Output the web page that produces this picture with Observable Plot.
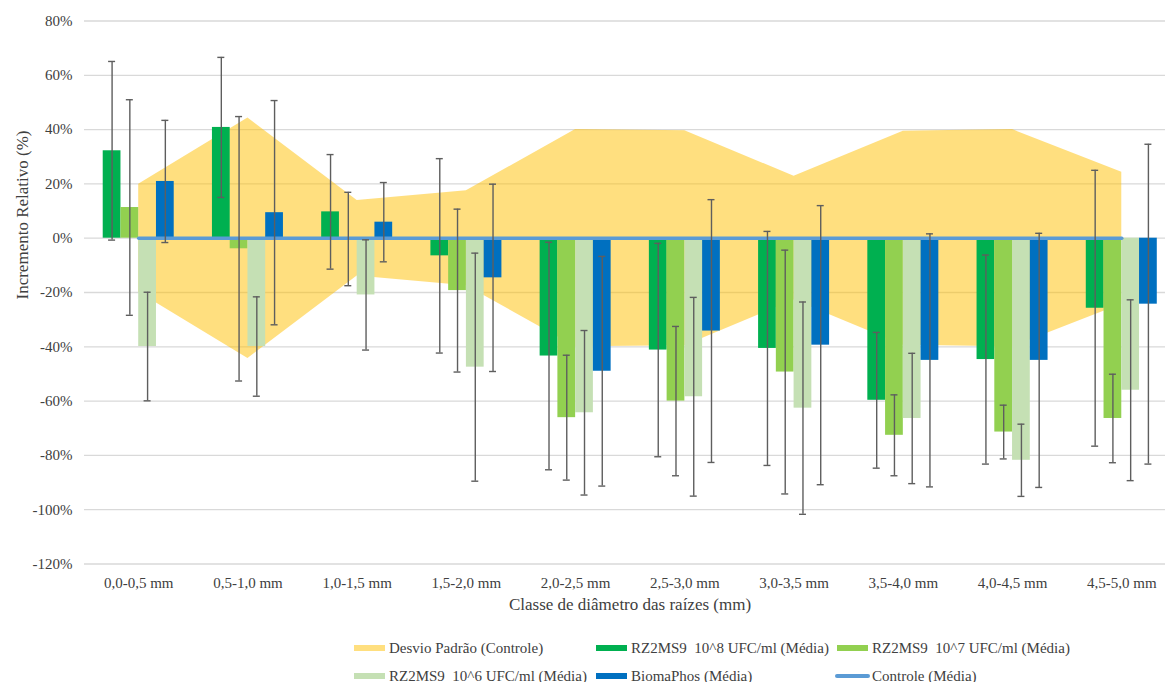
<!DOCTYPE html>
<html>
<head>
<meta charset="utf-8">
<script src="https://cdn.jsdelivr.net/npm/d3@7"></script>
<script src="https://cdn.jsdelivr.net/npm/@observablehq/plot@0.6"></script>
<style>
  html, body { margin: 0; padding: 0; background: #fff; overflow: hidden; }
  body { font-family: "Liberation Serif", "Times New Roman", serif; }
  #wrap { position: relative; width: 1165px; }
  #legend { position: relative; width: 1165px; height: 52px; }
  .item { position: absolute; height: 20px; display: flex; align-items: center;
          font-size: 15px; color: #404040; white-space: pre; }
  .sw { width: 31px; height: 6px; margin-right: 4px; }
  .ln { width: 35px; height: 4px; border-radius: 2px; margin-right: 2px; }
</style>
</head>
<body>
<div id="wrap"></div>
<script>
// ---------------- data ----------------
const categories = ["0,0-0,5 mm", "0,5-1,0 mm", "1,0-1,5 mm", "1,5-2,0 mm", "2,0-2,5 mm",
                    "2,5-3,0 mm", "3,0-3,5 mm", "3,5-4,0 mm", "4,0-4,5 mm", "4,5-5,0 mm"];
const seriesNames = ["RZ2MS9  10^8 UFC/ml (Média)", "RZ2MS9  10^7 UFC/ml (Média)",
                     "RZ2MS9  10^6 UFC/ml (Média)", "BiomaPhos (Média)"];
const rz8      = [32.2, 40.8, 9.7, -6.5, -43.4, -41.2, -40.6, -59.7, -44.7, -25.8];
const rz8Err   = [32.9, 25.8, 21.1, 35.8, 41.9, 39.3, 43.1, 25.0, 38.5, 50.8];
const rz7      = [11.3, -3.9, -0.3, -19.3, -66.1, -60.0, -49.3, -72.6, -71.4, -66.4];
const rz7Err   = [39.7, 48.7, 17.2, 30.0, 23.0, 27.5, 44.9, 14.9, 9.9, 16.3];
const rz6      = [-39.9, -39.9, -20.9, -47.5, -64.3, -58.4, -62.6, -66.4, -81.8, -56.0];
const rz6Err   = [20.0, 18.3, 20.3, 42.0, 30.3, 36.6, 39.1, 24.0, 13.3, 33.3];
const bioma    = [20.9, 9.4, 5.9, -14.6, -49.0, -34.2, -39.4, -45.0, -45.0, -24.3];
const biomaErr = [22.5, 41.3, 14.6, 34.5, 42.3, 48.4, 51.4, 46.6, 46.8, 58.9];
const controlMean = [0, 0, 0, 0, 0, 0, 0, 0, 0, 0];
const controlSD   = [19.9, 44.3, 13.9, 17.5, 40.0, 39.6, 22.8, 39.4, 40.0, 24.3];
const yTicks = [-120, -100, -80, -60, -40, -20, 0, 20, 40, 60, 80];
const xTitle = "Classe de diâmetro das raízes (mm)";
const yTitle = "Incremento Relativo (%)";
const sdName = "Desvio Padrão (Controle)";
const controlName = "Controle (Média)";

// ---------------- styling ----------------
const seriesColors = ["#00B050", "#92D050", "#C5E0B4", "#0070C0"];
const sdColor = "#FFC000";
const controlColor = "#5B9BD5";
const errColor = "#5e5e5e";
const textColor = "#404040";
const slot = 0.1625; // bar width in band units

// ---------------- tables ----------------
const seriesValues = [rz8, rz7, rz6, bioma];
const seriesErrors = [rz8Err, rz7Err, rz6Err, biomaErr];
const rows = seriesValues.flatMap((vals, k) => vals.map((v, i) => ({
  i, k, v, e: seriesErrors[k][i], s: seriesNames[k]
})));
const band = controlMean.map((m, i) => ({ i, m, lo: m - controlSD[i], hi: m + controlSD[i] }));
const xc = d => d.i + (d.k - 1.5) * slot;

const chart = Plot.plot({
  width: 1165,
  height: 630,
  marginLeft: 84,
  marginRight: 0,
  marginTop: 20.5,
  marginBottom: 66.5,
  style: { fontFamily: "Liberation Serif, Times New Roman, serif", fontSize: "15px", color: textColor, background: "white", overflow: "hidden" },
  x: { type: "linear", domain: [-0.5, 9.5], range: [83.6, 1175.9], ticks: d3.range(categories.length),
       tickFormat: i => categories[i], tickSize: 0, tickPadding: 13, label: null },
  y: { domain: [-120, 80], range: [563.5, 20.5], ticks: yTicks, tickFormat: d => d + "%",
       tickSize: 0, tickPadding: 12, label: null },
  color: { domain: seriesNames, range: seriesColors },
  marks: [
    Plot.ruleY(yTicks, { stroke: "#D9D9D9", strokeWidth: 1.3 }),
    Plot.areaY(band, { x: "i", y1: "lo", y2: "hi", fill: sdColor, fillOpacity: 0.5 }),
    Plot.rect(rows, { x1: d => xc(d) - slot / 2, x2: d => xc(d) + slot / 2, y1: () => 0, y2: "v", fill: "s" }),
    Plot.lineY(band, { x: "i", y: "m", stroke: controlColor, strokeWidth: 3.5 }),
    Plot.ruleX(rows, { x: xc, y1: d => d.v - d.e, y2: d => d.v + d.e, stroke: errColor, strokeWidth: 1.4 }),
    Plot.ruleY(rows, { y: d => d.v + d.e, x1: xc, x2: xc, insetLeft: -3.5, insetRight: -3.5, stroke: errColor, strokeWidth: 1.4 }),
    Plot.ruleY(rows, { y: d => d.v - d.e, x1: xc, x2: xc, insetLeft: -3.5, insetRight: -3.5, stroke: errColor, strokeWidth: 1.4 }),
    Plot.text([xTitle], { frameAnchor: "bottom", dx: 5, dy: 45.5, fontSize: 17, fill: textColor }),
    Plot.text([yTitle], { frameAnchor: "left", rotate: -90, dx: -62.3, dy: 7, fontSize: 17, fill: textColor })
  ]
});
document.getElementById("wrap").appendChild(chart);

// ---------------- legend ----------------
const legend = document.createElement("div");
legend.id = "legend";
const items = [
  { label: sdName, color: sdColor, op: 0.5, x: 354, row: 0, line: false },
  { label: seriesNames[0], color: seriesColors[0], op: 1, x: 596, row: 0, line: false },
  { label: seriesNames[1], color: seriesColors[1], op: 1, x: 837, row: 0, line: false },
  { label: seriesNames[2], color: seriesColors[2], op: 1, x: 354, row: 1, line: false },
  { label: seriesNames[3], color: seriesColors[3], op: 1, x: 596, row: 1, line: false },
  { label: controlName, color: controlColor, op: 1, x: 835, row: 1, line: true }
];
for (const it of items) {
  const d = document.createElement("div");
  d.className = "item";
  d.style.left = it.x + "px";
  d.style.top = (8 + it.row * 28) + "px";
  const s = document.createElement("span");
  s.className = it.line ? "ln" : "sw";
  s.style.background = it.color;
  s.style.opacity = it.op;
  d.appendChild(s);
  const t = document.createElement("span");
  t.textContent = it.label;
  d.appendChild(t);
  legend.appendChild(d);
}
document.getElementById("wrap").appendChild(legend);
</script>
</body>
</html>
